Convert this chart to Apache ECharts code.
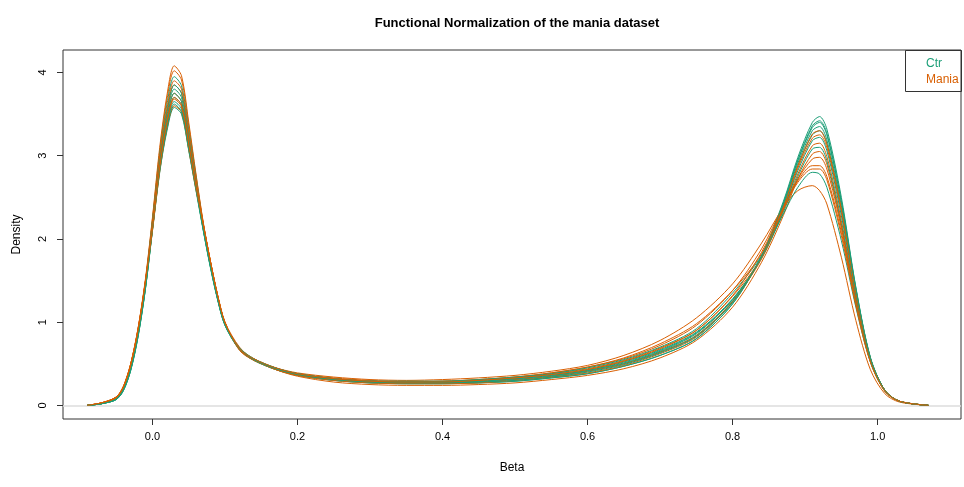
<!DOCTYPE html>
<html>
<head>
<meta charset="utf-8">
<script src="https://cdn.jsdelivr.net/npm/echarts@6/dist/echarts.min.js"></script>
<style>html,body{margin:0;padding:0;background:#fff}#c{width:964px;height:487px}</style>
</head>
<body>
<div id="c"></div>
<script>
// Shared Beta grid (x values)
var betaX = [-0.09,-0.07,-0.05,-0.04,-0.03,-0.02,-0.01,0.00,0.01,0.02,0.03,0.04,0.05,0.06,0.07,0.08,0.09,0.10,0.12,0.14,0.17,0.20,0.25,0.30,0.35,0.40,0.45,0.50,0.55,0.60,0.65,0.70,0.75,0.80,0.84,0.87,0.89,0.91,0.92,0.93,0.95,0.97,0.99,1.01,1.03,1.07];

// Density curves, Ctr samples
var ctr1 = [0.00,0.02,0.07,0.18,0.42,0.82,1.38, 2.10,2.80,3.30,3.58,3.50,3.06,2.58, 2.10,1.65,1.26,0.96, 0.67,0.54,0.43,0.36,0.30,0.27,0.26,0.26,0.27,0.29,0.33,0.38,0.47,0.60,0.80,1.22, 1.80,2.45,2.98,3.40,3.47,3.32,2.50,1.42,0.58,0.18,0.05,0.00];
var ctr2 = [0.00,0.02,0.08,0.19,0.44,0.84,1.40, 2.12,2.86,3.40,3.70,3.61,3.14,2.63, 2.12,1.67,1.27,0.97, 0.68,0.55,0.44,0.37,0.31,0.28,0.27,0.27,0.28,0.31,0.35,0.41,0.50,0.64,0.84,1.25, 1.79,2.42,2.94,3.34,3.40,3.25,2.44,1.40,0.57,0.18,0.05,0.00];
var ctr3 = [0.00,0.02,0.08,0.20,0.45,0.86,1.42, 2.18,2.94,3.49,3.80,3.70,3.21,2.68, 2.14,1.69,1.29,0.98, 0.69,0.56,0.45,0.38,0.32,0.29,0.28,0.28,0.30,0.33,0.37,0.43,0.53,0.67,0.88,1.28, 1.78,2.39,2.88,3.25,3.30,3.15,2.36,1.36,0.56,0.18,0.05,0.00];
var ctr4 = [0.00,0.02,0.07,0.18,0.43,0.83,1.39, 2.12,2.84,3.36,3.65,3.56,3.10,2.61, 2.11,1.66,1.27,0.96, 0.67,0.54,0.43,0.36,0.30,0.27,0.26,0.26,0.27,0.29,0.33,0.38,0.47,0.60,0.80,1.22, 1.79,2.40,2.91,3.30,3.35,3.19,2.40,1.38,0.57,0.18,0.05,0.00];
var ctr5 = [0.00,0.02,0.08,0.20,0.46,0.88,1.45, 2.22,3.02,3.62,3.95,3.84,3.31,2.74, 2.16,1.69,1.28,0.97, 0.68,0.55,0.44,0.37,0.31,0.28,0.27,0.27,0.29,0.32,0.36,0.42,0.51,0.65,0.86,1.27, 1.77,2.32,2.75,3.08,3.10,2.94,2.18,1.26,0.54,0.18,0.05,0.00];
var ctr6 = [0.00,0.02,0.07,0.19,0.43,0.84,1.40, 2.15,2.90,3.44,3.75,3.65,3.17,2.66, 2.13,1.68,1.28,0.97, 0.69,0.56,0.45,0.38,0.32,0.29,0.28,0.28,0.29,0.32,0.36,0.42,0.52,0.66,0.87,1.27, 1.78,2.36,2.82,3.18,3.22,3.06,2.28,1.32,0.55,0.18,0.05,0.00];
var ctr7 = [0.00,0.02,0.08,0.20,0.45,0.86,1.43, 2.20,2.97,3.53,3.85,3.75,3.25,2.70, 2.15,1.69,1.29,0.98, 0.68,0.55,0.44,0.38,0.32,0.29,0.29,0.29,0.31,0.34,0.38,0.45,0.55,0.70,0.92,1.35, 1.80,2.30,2.62,2.80,2.78,2.62,1.98,1.18,0.52,0.17,0.05,0.00];
var ctr8 = [0.00,0.02,0.07,0.18,0.42,0.82,1.38, 2.11,2.82,3.33,3.62,3.53,3.08,2.60, 2.11,1.66,1.27,0.97, 0.68,0.55,0.44,0.37,0.31,0.28,0.27,0.27,0.28,0.30,0.34,0.40,0.49,0.63,0.83,1.24, 1.79,2.43,2.95,3.36,3.42,3.27,2.46,1.41,0.57,0.18,0.05,0.00];

// Density curves, Mania samples
var mania1 = [0.00,0.03,0.10,0.23,0.50,0.92,1.50, 2.26,3.10,3.73,4.08,3.96,3.40,2.78, 2.20,1.73,1.32,1.00, 0.66,0.54,0.45,0.39,0.34,0.31,0.30,0.31,0.33,0.36,0.41,0.48,0.60,0.78,1.05,1.46, 1.95,2.38,2.58,2.64,2.58,2.42,1.78,1.02,0.43,0.14,0.04,0.00];
var mania2 = [0.00,0.03,0.10,0.22,0.49,0.91,1.48, 2.24,3.06,3.68,4.02,3.91,3.36,2.76, 2.19,1.72,1.31,0.99, 0.67,0.55,0.45,0.38,0.33,0.30,0.29,0.29,0.31,0.34,0.39,0.46,0.56,0.72,0.96,1.38, 1.88,2.40,2.70,2.88,2.88,2.75,2.08,1.22,0.53,0.17,0.05,0.00];
var mania3 = [0.00,0.03,0.09,0.22,0.48,0.89,1.45, 2.10,2.81,3.32,3.60,3.52,3.07,2.59, 2.17,1.72,1.31,0.99, 0.68,0.55,0.44,0.37,0.31,0.28,0.27,0.27,0.28,0.31,0.35,0.41,0.50,0.64,0.84,1.25, 1.76,2.35,2.85,3.21,3.25,3.10,2.32,1.34,0.56,0.18,0.05,0.00];
var mania4 = [0.00,0.03,0.10,0.23,0.50,0.92,1.48, 2.16,2.91,3.45,3.75,3.65,3.17,2.66, 2.18,1.73,1.32,1.00, 0.70,0.55,0.43,0.35,0.28,0.25,0.24,0.24,0.25,0.27,0.31,0.36,0.44,0.57,0.78,1.18, 1.72,2.28,2.72,3.02,3.05,2.90,2.16,1.26,0.54,0.18,0.05,0.00];
var mania5 = [0.00,0.03,0.09,0.22,0.49,0.90,1.47, 2.20,2.97,3.53,3.85,3.75,3.25,2.70, 2.18,1.72,1.31,0.99, 0.68,0.55,0.44,0.38,0.32,0.29,0.28,0.29,0.30,0.33,0.38,0.44,0.54,0.69,0.90,1.31, 1.78,2.34,2.78,3.12,3.15,2.99,2.22,1.29,0.55,0.18,0.05,0.00];
var mania6 = [0.00,0.03,0.10,0.23,0.50,0.91,1.47, 2.12,2.85,3.38,3.68,3.59,3.12,2.62, 2.17,1.72,1.31,0.99, 0.67,0.54,0.44,0.37,0.32,0.29,0.28,0.29,0.31,0.34,0.39,0.46,0.57,0.74,0.98,1.38, 1.82,2.36,2.72,2.96,2.98,2.84,2.13,1.24,0.53,0.17,0.05,0.00];
var mania7 = [0.00,0.03,0.09,0.22,0.48,0.89,1.46, 2.21,3.00,3.57,3.90,3.80,3.28,2.72, 2.18,1.72,1.31,0.99, 0.68,0.55,0.43,0.36,0.30,0.27,0.26,0.26,0.27,0.30,0.34,0.39,0.48,0.62,0.82,1.24, 1.78,2.38,2.88,3.26,3.30,3.14,2.36,1.36,0.56,0.18,0.05,0.00];
var mania8 = [0.00,0.03,0.10,0.22,0.49,0.90,1.47, 2.12,2.86,3.40,3.70,3.61,3.14,2.63, 2.17,1.72,1.31,0.99, 0.68,0.56,0.45,0.38,0.32,0.29,0.28,0.28,0.30,0.33,0.37,0.43,0.53,0.68,0.90,1.32, 1.84,2.37,2.68,2.84,2.84,2.71,2.04,1.20,0.52,0.17,0.05,0.00];

var ctrCurves = [ctr1, ctr2, ctr3, ctr4, ctr5, ctr6, ctr7, ctr8];
var maniaCurves = [mania1, mania2, mania3, mania4, mania5, mania6, mania7, mania8];

var xTicks = [0, 0.2, 0.4, 0.6, 0.8, 1.0];
var yTicks = [0, 1, 2, 3, 4];
var groupNames = ['Ctr', 'Mania'];

var CTR_COLOR = '#1B9E77';
var MANIA_COLOR = '#D95F02';
var FONT = 'Liberation Sans';

function pairs(ys) { return betaX.map(function (x, i) { return [x, ys[i]]; }); }

var series = [];
for (var i = 0; i < ctrCurves.length; i++) {
  series.push({ name: groupNames[0], type: 'line', data: pairs(ctrCurves[i]), smooth: 0.3, showSymbol: false,
    lineStyle: { color: CTR_COLOR, width: 1 }, itemStyle: { color: CTR_COLOR }, z: 3 });
  series.push({ name: groupNames[1], type: 'line', data: pairs(maniaCurves[i]), smooth: 0.3, showSymbol: false,
    lineStyle: { color: MANIA_COLOR, width: 1 }, itemStyle: { color: MANIA_COLOR }, z: 3 });
}
series[0].markLine = { silent: true, symbol: 'none', label: { show: false }, z: 1,
  lineStyle: { color: '#dddddd', width: 1.5, type: 'solid' }, data: [{ yAxis: 0 }] };

var chart = echarts.init(document.getElementById('c'), null, { renderer: 'canvas' });
chart.setOption({
  animation: false,
  backgroundColor: '#ffffff',
  title: { text: 'Functional Normalization of the mania dataset', left: 512, top: 12, textAlign: 'center',
    textStyle: { fontFamily: FONT, fontWeight: 'bold', fontSize: 13, color: '#000' } },
  grid: { left: 63, right: 3, top: 50, bottom: 68, show: true, borderColor: '#333', borderWidth: 1,
    backgroundColor: 'transparent', containLabel: false, outerBoundsMode: 'none' },
  legend: { data: [{ name: 'Ctr', textStyle: { color: CTR_COLOR } }, { name: 'Mania', textStyle: { color: MANIA_COLOR } }],
    orient: 'vertical', left: 921, top: 58, icon: 'none', itemWidth: 0, itemHeight: 10, itemGap: 4, padding: 0,
    selectedMode: false, textStyle: { fontFamily: FONT, fontSize: 12, padding: 0 } },
  graphic: [{ type: 'rect', shape: { x: 905.5, y: 50.5, width: 56, height: 41 }, style: { fill: 'none', stroke: '#333', lineWidth: 1 }, z: 10 }],
  xAxis: { type: 'value', min: -0.1234, max: 1.115, name: 'Beta', nameLocation: 'middle', nameGap: 43,
    nameTextStyle: { fontFamily: FONT, fontSize: 12, color: '#000' },
    axisLine: { show: false, onZero: false }, splitLine: { show: false },
    axisTick: { show: true, inside: false, length: 6, customValues: xTicks, lineStyle: { color: '#333' } },
    axisLabel: { customValues: xTicks, margin: 12, fontFamily: FONT, fontSize: 11, color: '#000',
      formatter: function (v) { return v.toFixed(1); } } },
  yAxis: { type: 'value', min: -0.164, max: 4.27, name: 'Density', nameLocation: 'middle', nameGap: 40,
    nameTextStyle: { fontFamily: FONT, fontSize: 12, color: '#000' },
    axisLine: { show: false, onZero: false }, splitLine: { show: false },
    axisTick: { show: true, inside: false, length: 6, customValues: yTicks, lineStyle: { color: '#333' } },
    axisLabel: { customValues: yTicks, rotate: 90, margin: 15, fontFamily: FONT, fontSize: 11, color: '#000',
      formatter: function (v) { return String(v); } } },
  series: series
});
</script>
</body>
</html>
